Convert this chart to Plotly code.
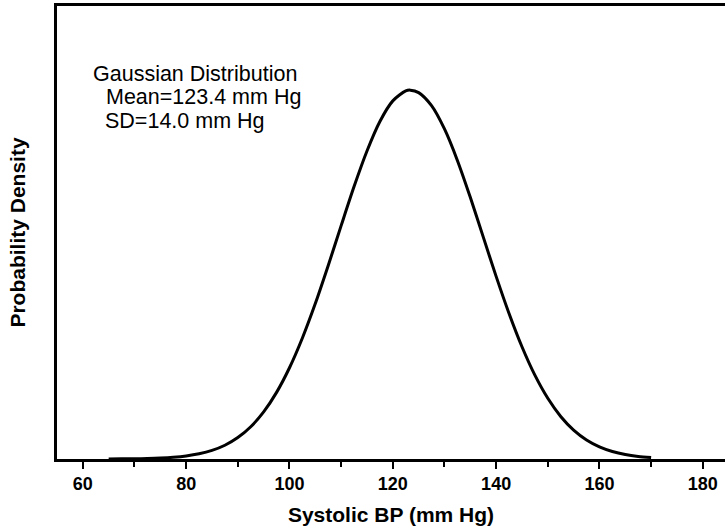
import plotly.graph_objects as go

# Values (systolic BP, probability density)
bp = [65, 67.5, 70, 72.5, 75, 77.5, 80, 82.5, 85, 87.5, 90, 92.5, 95, 97.5, 100,
      102.5, 105, 107.5, 110, 112.5, 115, 117.5, 120, 122.5, 123.4, 125, 127.5,
      130, 132.5, 135, 137.5, 140, 142.5, 145, 147.5, 150, 152.5, 155, 157.5,
      160, 162.5, 165, 167.5, 170]
density = [0.0000047, 0.0000098, 0.0000197, 0.0000384, 0.0000723, 0.000132,
           0.000233, 0.0003995, 0.000662, 0.001064, 0.001656, 0.002495, 0.00364,
           0.005147, 0.00705, 0.009353, 0.01201, 0.014953, 0.01803, 0.02105,
           0.0238, 0.02608, 0.02767, 0.02844, 0.0285, 0.02831, 0.0273, 0.0255,
           0.02307, 0.02022, 0.01716, 0.01411, 0.01124, 0.00867, 0.006476,
           0.00469, 0.003286, 0.00223, 0.001467, 0.000934, 0.000577, 0.000345,
           0.0001996, 0.000112]
tick_vals = [60, 80, 100, 120, 140, 160, 180]
tick_text = ["60", "80", "100", "120", "140", "160", "180"]

FONT = "Liberation Sans, Arial, sans-serif"

fig = go.Figure()
fig.add_trace(go.Scatter(x=bp, y=density, mode="lines",
                         line=dict(color="black", width=3, shape="spline", smoothing=0.8),
                         hoverinfo="skip", showlegend=False))

fig.update_layout(
    width=725, height=531,
    margin=dict(l=57, r=0, t=6, b=72),
    paper_bgcolor="white", plot_bgcolor="white",
    font=dict(family=FONT, color="black"),
    xaxis=dict(range=[55, 184.3], showgrid=False, zeroline=False,
               showline=True, linecolor="black", linewidth=2.5, mirror=True,
               tickvals=tick_vals, ticktext=tick_text,
               ticks="outside", ticklen=7, tickwidth=2, tickcolor="black",
               minor=dict(ticks="outside", dtick=10, tick0=0, ticklen=5, tickwidth=2, tickcolor="black"),
               tickfont=dict(family=FONT, size=18, color="black", weight="bold"),
               title=dict(text="<b>Systolic BP (mm Hg)</b>", font=dict(family=FONT, size=21), standoff=14)),
    yaxis=dict(range=[0, 0.035], showgrid=False, zeroline=False,
               showline=True, linecolor="black", linewidth=2.5,
               showticklabels=False, ticks="",
               title=dict(text="<b>Probability Density</b>", font=dict(family=FONT, size=21), standoff=23)),
)

notes = [("Gaussian Distribution", 91, 74), ("Mean=123.4 mm Hg", 104, 97), ("SD=14.0 mm Hg", 103, 121)]
for txt, px, py in notes:
    fig.add_annotation(text=txt, xref="paper", yref="paper",
                       x=(px - 57) / 668, y=(459 - py) / 453,
                       xanchor="left", yanchor="middle", showarrow=False,
                       font=dict(family=FONT, size=21.5, color="black"))

fig.write_html("out.html")
